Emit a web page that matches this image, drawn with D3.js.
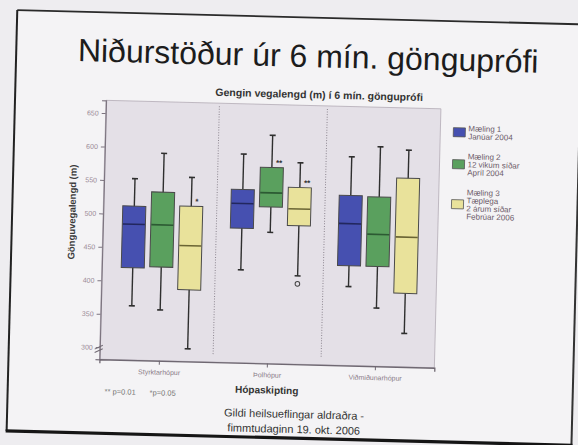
<!DOCTYPE html>
<html>
<head>
<meta charset="utf-8">
<script src="https://cdn.jsdelivr.net/npm/d3@7"></script>
<style>
  body { margin: 0; background: #eeedf0; }
  svg { display: block; font-family: "Liberation Sans", Arial, sans-serif; }
</style>
</head>
<body>
<div id="chart"></div>
<script>
// groups on the x axis and the three measurements
const groups = ["Styrktarhópur", "Þolhópur", "Viðmiðunarhópur"];
const measurements = ["Mæling 1", "Mæling 2", "Mæling 3"];
const legendLines = [
  ["Mæling 1", "Janúar 2004"],
  ["Mæling 2", "12 vikum síðar", "Apríl 2004"],
  ["Mæling 3", "Tæplega", "2 árum síðar", "Febrúar 2006"]
];
const colors = ["#4650b0", "#5aa05e", "#e9e29b"];
const medianColors = ["#22275e", "#2c5a33", "#6a6434"];

// box values per group (rows) and measurement (columns), metres
const whiskerHigh = [[553, 592, 557], [594, 623, 583], [594, 610, 606]];
const q3          = [[512, 534, 514], [541, 575, 546], [536, 535, 564]];
const median      = [[485, 485, 455], [520, 537, 514], [494, 479, 476]];
const q1          = [[420, 422, 389], [483, 516, 489], [431, 431, 392]];
const whiskerLow  = [[363, 358, 301], [421, 478, 414], [400, 369, 332]];
const outliers    = [{group: 1, series: 2, value: 402}];
const significance = [["", "", "*"], ["", "**", "**"], ["", "", ""]];
const yTicks = [300, 350, 400, 450, 500, 550, 600, 650];

const width = 578, height = 445;
const plot = {left: 103, right: 438, top: 105, bottom: 364};

const svg = d3.select("#chart").append("svg")
  .attr("width", width)
  .attr("height", height);

svg.append("rect").attr("width", width).attr("height", height).attr("fill", "#eeedf0");

// the photo is slightly tilted, so everything sits in a rotated group
const slide = svg.append("g").attr("transform", "rotate(1.45,289,222)");

slide.append("rect")
  .attr("x", 12).attr("y", 17).attr("width", 565).attr("height", 421)
  .attr("fill", "#f4f3f5");

// slide border
const border = [
  {x1: 12, y1: 17, x2: 577, y2: 17, w: 1.8, c: "#2a2a2a"},
  {x1: 12, y1: 17, x2: 12, y2: 438, w: 2, c: "#222"},
  {x1: 577, y1: 17, x2: 577, y2: 438, w: 2, c: "#333"},
  {x1: 11, y1: 438, x2: 578, y2: 438, w: 3.2, c: "#151515"}
];
slide.selectAll("line.border")
  .data(border)
  .enter()
  .append("line")
  .attr("class", "border")
  .attr("x1", d => d.x1).attr("y1", d => d.y1)
  .attr("x2", d => d.x2).attr("y2", d => d.y2)
  .attr("stroke", d => d.c)
  .attr("stroke-width", d => d.w);

// titles
slide.append("text")
  .attr("x", 304).attr("y", 66.5)
  .attr("text-anchor", "middle")
  .attr("font-size", 32)
  .attr("fill", "#1c1c1c")
  .text("Niðurstöður úr 6 mín. gönguprófi");

slide.append("text")
  .attr("x", 316).attr("y", 94)
  .attr("dy", "0.35em")
  .attr("text-anchor", "middle")
  .attr("font-size", 10.5)
  .attr("font-weight", "bold")
  .attr("fill", "#333")
  .text("Gengin vegalengd (m) í 6 mín. gönguprófi");

// scales
const y = d3.scaleLinear().domain([282, 669]).range([plot.bottom, plot.top]);
const x = d3.scalePoint().domain(groups).range([plot.left, plot.right]).padding(0.55);
const inner = d3.scaleBand().domain(d3.range(measurements.length)).range([-40, 40]).paddingInner(0.19);
const bw = inner.bandwidth();

slide.append("rect")
  .attr("x", plot.left).attr("y", plot.top)
  .attr("width", plot.right - plot.left)
  .attr("height", plot.bottom - plot.top)
  .attr("fill", "#e4e0e7")
  .attr("stroke", "#b3acb6")
  .attr("stroke-width", 0.8);

// dotted separators between groups
const seps = d3.range(1, groups.length).map(i => (x(groups[i - 1]) + x(groups[i])) / 2);
slide.selectAll("line.sep")
  .data(seps)
  .enter()
  .append("line")
  .attr("class", "sep")
  .attr("x1", d => d).attr("x2", d => d)
  .attr("y1", plot.top + 3).attr("y2", plot.bottom - 7)
  .attr("stroke", "#8d8690")
  .attr("stroke-width", 1)
  .attr("stroke-dasharray", "1,1.6");

// axes
const yAxis = slide.append("g")
  .attr("transform", `translate(${plot.left},0)`)
  .call(d3.axisLeft(y).tickValues(yTicks).tickSize(4).tickPadding(3));
yAxis.select(".domain").attr("stroke", "#7d7580").attr("stroke-width", 1.2);
yAxis.selectAll(".tick line").attr("stroke", "#7d7580");
yAxis.selectAll(".tick text").attr("font-size", 7).attr("fill", "#9a8a96");

const xAxis = slide.append("g")
  .attr("transform", `translate(0,${plot.bottom})`)
  .call(d3.axisBottom(x).tickSize(4).tickPadding(5));
xAxis.select(".domain").attr("stroke", "#6f6872").attr("stroke-width", 1.3);
xAxis.selectAll(".tick line").attr("stroke", "#6f6872");
xAxis.selectAll(".tick text").attr("font-size", 7).attr("fill", "#8a7c88");

// axis break at 300
const y300 = y(300);
[0, 3.5].forEach(off => {
  slide.append("line")
    .attr("x1", plot.left - 5).attr("y1", y300 + 2 + off)
    .attr("x2", plot.left + 3).attr("y2", y300 - 2 + off)
    .attr("stroke", "#6f6872")
    .attr("stroke-width", 1);
});

// boxes
const boxes = [];
groups.forEach((g, gi) => {
  measurements.forEach((m, si) => {
    boxes.push({
      group: g, gi: gi, si: si,
      lo: whiskerLow[gi][si], q1: q1[gi][si], med: median[gi][si],
      q3: q3[gi][si], hi: whiskerHigh[gi][si], sig: significance[gi][si]
    });
  });
});

const cx = d => x(d.group) + inner(d.si) + bw / 2;

const box = slide.selectAll("g.box")
  .data(boxes)
  .enter()
  .append("g")
  .attr("class", "box");

box.append("line")
  .attr("x1", cx).attr("x2", cx)
  .attr("y1", d => y(d.hi)).attr("y2", d => y(d.lo))
  .attr("stroke", "#2f2f2f")
  .attr("stroke-width", 1.4);

box.selectAll("line.cap")
  .data(d => [{c: cx(d), v: d.hi}, {c: cx(d), v: d.lo}])
  .enter()
  .append("line")
  .attr("class", "cap")
  .attr("x1", d => d.c - 3).attr("x2", d => d.c + 3)
  .attr("y1", d => y(d.v)).attr("y2", d => y(d.v))
  .attr("stroke", "#2f2f2f")
  .attr("stroke-width", 1.6);

box.append("rect")
  .attr("x", d => cx(d) - bw / 2)
  .attr("y", d => y(d.q3))
  .attr("width", bw)
  .attr("height", d => y(d.q1) - y(d.q3))
  .attr("fill", d => colors[d.si])
  .attr("stroke", "#4a4a4a")
  .attr("stroke-width", 1);

box.append("line")
  .attr("x1", d => cx(d) - bw / 2 + 0.5).attr("x2", d => cx(d) + bw / 2 - 0.5)
  .attr("y1", d => y(d.med)).attr("y2", d => y(d.med))
  .attr("stroke", d => medianColors[d.si])
  .attr("stroke-width", 1.6);

// significance stars
box.filter(d => d.sig !== "")
  .append("text")
  .attr("x", d => cx(d) + 4)
  .attr("y", d => y(d.q3) - 2)
  .attr("font-size", 8)
  .attr("font-weight", "bold")
  .attr("fill", "#333")
  .text(d => d.sig);

// outliers
slide.selectAll("circle.outlier")
  .data(outliers)
  .enter()
  .append("circle")
  .attr("class", "outlier")
  .attr("cx", d => x(groups[d.group]) + inner(d.series) + bw / 2)
  .attr("cy", d => y(d.value))
  .attr("r", 2.3)
  .attr("fill", "none")
  .attr("stroke", "#444")
  .attr("stroke-width", 1);

// axis titles
slide.append("text")
  .attr("transform", "translate(72,217.5) rotate(-90)")
  .attr("dy", "0.35em")
  .attr("text-anchor", "middle")
  .attr("font-size", 9.5)
  .attr("font-weight", "bold")
  .attr("fill", "#3a3a3a")
  .text("Gönguvegalengd (m)");

slide.append("text")
  .attr("x", 271).attr("y", 390.5)
  .attr("dy", "0.35em")
  .attr("text-anchor", "middle")
  .attr("font-size", 10)
  .attr("font-weight", "bold")
  .attr("fill", "#333")
  .text("Hópaskipting");

// footnote
slide.selectAll("text.note")
  .data([{t: "** p=0.01", x: 109}, {t: "*p=0.05", x: 154}])
  .enter()
  .append("text")
  .attr("class", "note")
  .attr("x", d => d.x).attr("y", 396)
  .attr("dy", "0.35em")
  .attr("font-size", 7.5)
  .attr("fill", "#777")
  .text(d => d.t);

// legend
let ly = 124;
const legend = slide.append("g");
legendLines.forEach((lines, i) => {
  const blockMid = ly + (lines.length - 1) * 8 / 2;
  legend.append("rect")
    .attr("x", 451).attr("y", blockMid - 4.5)
    .attr("width", 12).attr("height", 9)
    .attr("fill", colors[i])
    .attr("stroke", "#555")
    .attr("stroke-width", 0.8);
  legend.selectAll(null)
    .data(lines)
    .enter()
    .append("text")
    .attr("x", 466)
    .attr("y", (d, j) => ly + j * 8)
    .attr("dy", "0.35em")
    .attr("font-size", 8)
    .attr("fill", "#6b5a68")
    .text(d => d);
  ly += lines.length * 8 + 12;
});

// footer
slide.selectAll("text.footer")
  .data(["Gildi heilsueflingar aldraðra -", "fimmtudaginn 19. okt. 2006"])
  .enter()
  .append("text")
  .attr("class", "footer")
  .attr("x", 299)
  .attr("y", (d, i) => 414 + i * 15)
  .attr("dy", "0.35em")
  .attr("text-anchor", "middle")
  .attr("font-size", 11)
  .attr("fill", "#333")
  .text(d => d);
</script>
</body>
</html>
